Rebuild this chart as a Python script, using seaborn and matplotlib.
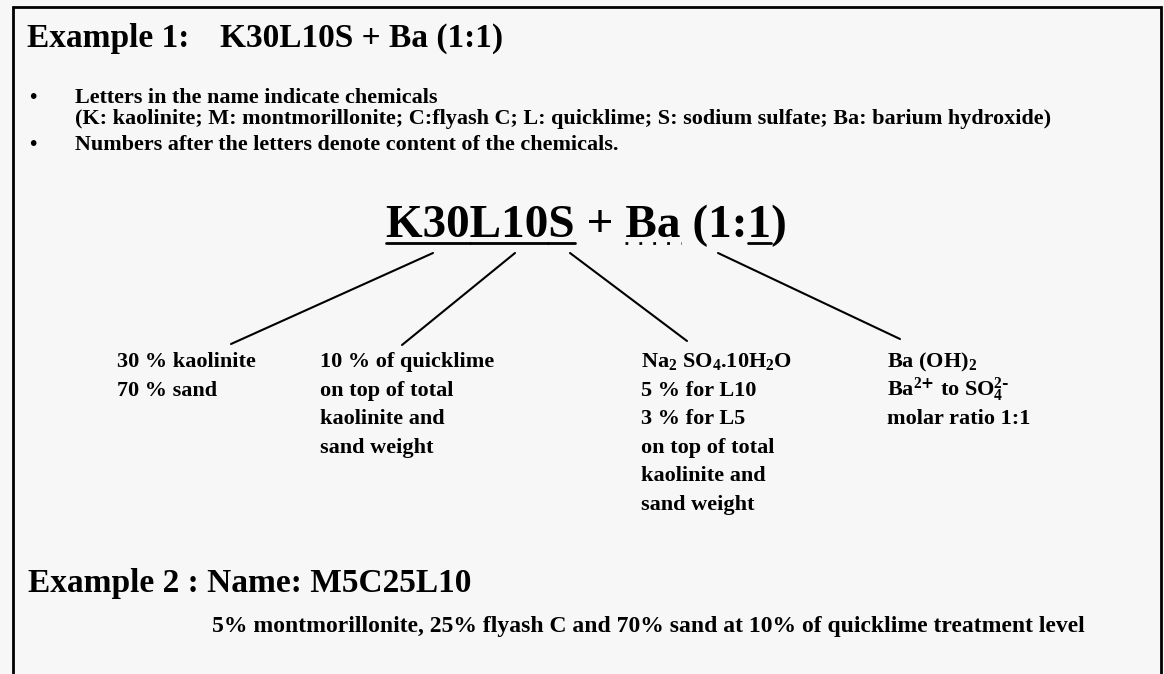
"""
Naming-convention slide for the soil mixes, redrawn as a figure.
"""
import matplotlib
matplotlib.use("Agg")
import matplotlib.pyplot as plt
import pandas as pd
import seaborn as sns

# ─── Text content ─────────────────────────────────────────────────────────────
EX1_LABEL = "Example 1:"
EX1_NAME = "K30L10S + Ba (1:1)"
BULLET_LINES = [
    "Letters in the name indicate chemicals",
    "(K: kaolinite; M: montmorillonite; C:flyash C; L: quicklime; "
    "S: sodium sulfate; Ba: barium hydroxide)",
    "Numbers after the letters denote content of the chemicals.",
]
BULLET_MARKS = [True, False, True]

# pieces of the big name, and which of them are underlined
NAME_PARTS = ["K30", "L10", "S", " + ", "Ba", " (1:", "1", ")"]
NAME_UNDERLINE = ["solid", "solid", "solid", None, "dotted", None, "solid", None]

BLOCK_CLAY = ["30 % kaolinite", "70 % sand"]
BLOCK_LIME = ["10 % of quicklime", "on top of total", "kaolinite and", "sand weight"]
BLOCK_SULFATE = [r"Na$_2$ SO$_4$.10H$_2$O", "5 % for L10", "3 % for L5",
                 "on top of total", "kaolinite and", "sand weight"]
BLOCK_BARIUM = [r"Ba (OH)$_2$", r"Ba$^{2\text{+}}$ to SO$_4^{2\text{-}}$",
                "molar ratio 1:1"]

EX2_TITLE = "Example 2 : Name: M5C25L10"
EX2_TEXT = ("5% montmorillonite, 25% flyash C and 70% sand at 10% "
            "of quicklime treatment level")

# ─── Layout (pixel coordinates, y down) ───────────────────────────────────────
W, H = 1164, 674
BG = "#f7f7f7"
FONT = ["Liberation Serif", "DejaVu Serif"]

BLOCKS = [BLOCK_CLAY, BLOCK_LIME, BLOCK_SULFATE, BLOCK_BARIUM]
BLOCK_X = [117, 320, 641, 887]
BLOCK_TOP_BASELINE = 367
BLOCK_STEP = 28.6

CONNECTORS = [((433, 253), (231, 344)),
              ((515, 253), (402, 345)),
              ((570, 253), (687, 341)),
              ((718, 253), (900, 339))]

sns.set_theme(style="white")
plt.rcParams["font.family"] = FONT
plt.rcParams["font.weight"] = "bold"
plt.rcParams["mathtext.default"] = "regular"

fig = plt.figure(figsize=(W / 100, H / 100), dpi=100, facecolor=BG)
ax = fig.add_axes([0, 0, 1, 1])
ax.set_facecolor(BG)

txt = dict(fontweight="bold", color="black", va="baseline", ha="left")

# ── connectors ─────────────────────────────────────────────────────────────
rows = []
for i, (p0, p1) in enumerate(CONNECTORS):
    rows.append({"seg": i, "x": p0[0], "y": p0[1]})
    rows.append({"seg": i, "x": p1[0], "y": p1[1]})
seg_df = pd.DataFrame(rows)
sns.lineplot(data=seg_df, x="x", y="y", units="seg", estimator=None,
             sort=False, color="black", lw=1.5, ax=ax, legend=False)
ax.set_xlim(0, W)
ax.set_ylim(H, 0)
ax.axis("off")

# ── frame ───────────────────────────────────────────────────────────────────
ax.plot([13, 13, 1161, 1161], [H, 7, 7, H], color="black", lw=2,
        solid_joinstyle="miter")

# ── header ──────────────────────────────────────────────────────────────────
ax.text(27, 47, EX1_LABEL, fontsize=24, **txt)
ax.text(220, 47, EX1_NAME, fontsize=24, **txt)

bullet_baselines = [103, 124, 150]
for line, mark, yb in zip(BULLET_LINES, BULLET_MARKS, bullet_baselines):
    if mark:
        ax.text(29, yb, "\u2022", fontsize=15, **txt)
    ax.text(75, yb, line, fontsize=15.9, **txt)

# ── big name with underlined parts ─────────────────────────────────────────
renderer = fig.canvas.get_renderer()


def text_width(s, size):
    t = ax.text(0, 0, s, fontsize=size, **txt)
    w = t.get_window_extent(renderer).width
    t.remove()
    return w


big_size = 34
name_x, name_y = 386, 237
ax.text(name_x, name_y, "".join(NAME_PARTS), fontsize=big_size, **txt)
prefix = ""
for part, style in zip(NAME_PARTS, NAME_UNDERLINE):
    if style is not None:
        end = name_x + text_width(prefix + part, big_size)
        start = end - text_width(part, big_size)
        ax.plot([start, end], [243, 243], color="black", lw=2,
                linestyle="-" if style == "solid" else (0, (1, 4)))
    prefix += part

# ── description blocks ─────────────────────────────────────────────────────
for lines, bx in zip(BLOCKS, BLOCK_X):
    for k, line in enumerate(lines):
        ax.text(bx, BLOCK_TOP_BASELINE + k * BLOCK_STEP, line, fontsize=16, **txt)

# ── example 2 ──────────────────────────────────────────────────────────────
ax.text(28, 592, EX2_TITLE, fontsize=24, **txt)
ax.text(212, 632, EX2_TEXT, fontsize=17, **txt)

fig.savefig("out.png", dpi=100, facecolor=BG)
